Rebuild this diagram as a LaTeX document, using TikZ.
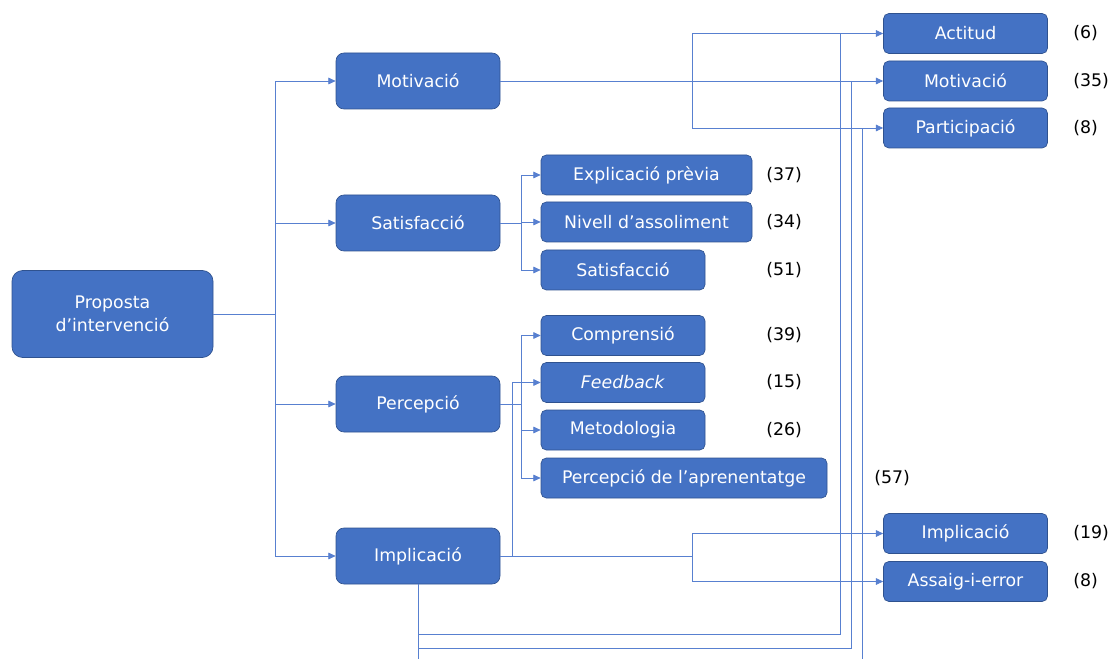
\documentclass[tikz,border=0pt]{standalone}
\usepackage{fontspec}
\setmainfont{DejaVu Sans}
\usetikzlibrary{arrows.meta}
\definecolor{boxblue}{RGB}{68,114,196}
\definecolor{boxedge}{RGB}{47,82,143}
\definecolor{linkblue}{RGB}{88,128,208}
\tikzset{>={Triangle[length=5.5pt,width=5pt]}}
\tikzset{
  catbox/.style={draw=boxedge, fill=boxblue, text=white, rounded corners=6pt,
    font=\fontsize{13}{17}\selectfont, align=center, inner sep=0pt, line width=0.5pt,
    minimum width=123pt, minimum height=42pt},
  mainbox/.style={catbox, minimum width=150.75pt, minimum height=65.25pt, rounded corners=8pt},
  subbox/.style={catbox, rounded corners=4pt, minimum height=30pt, minimum width=#1},
  subbox/.default=123pt,
  link/.style={draw=linkblue, line width=0.6pt},
  count/.style={anchor=west, font=\fontsize{13}{15}\selectfont, inner sep=0pt}
}

\begin{document}
\begin{tikzpicture}[x=0.75pt,y=-0.75pt]
  \useasboundingbox (0,0) rectangle (1114,659);

  \node[mainbox] (prop) at (112.5,314) {Proposta\\d’intervenció};
  \node[catbox] (mot) at (418,81) {Motivació};
  \node[catbox] (sat) at (418,223) {Satisfacció};
  \node[catbox] (per) at (418,404) {Percepció};
  \node[catbox] (imp) at (418,556) {Implicació};

  \node[subbox=158.25pt] (expl) at (646.5,175) {Explicació prèvia};
  \node[subbox=158.25pt] (niv) at (646.5,222) {Nivell d’assoliment};
  \node[subbox] (sat2) at (623,270) {Satisfacció};
  \node[subbox] (comp) at (623,335.5) {Comprensió};
  \node[subbox] (feed) at (623,382.5) {\textit{Feedback}};
  \node[subbox] (met) at (623,430) {Metodologia};
  \node[subbox=214.5pt] (apr) at (684,478) {Percepció de l’aprenentatge};

  \node[subbox] (act) at (965.5,33.5) {Actitud};
  \node[subbox] (mot2) at (965.5,81) {Motivació};
  \node[subbox] (part) at (965.5,128) {Participació};
  \node[subbox] (imp2) at (965.5,533.5) {Implicació};
  \node[subbox] (ass) at (965.5,581.5) {Assaig-i-error};

  \node[count] (nexpl) at (766,175) {(37)};
  \node[count] (nniv) at (766,222) {(34)};
  \node[count] (nsat2) at (766,270) {(51)};
  \node[count] (ncomp) at (766,335.5) {(39)};
  \node[count] (nfeed) at (766,382.5) {(15)};
  \node[count] (nmet) at (766,430) {(26)};
  \node[count] (napr) at (874,478) {(57)};
  \node[count] (nact) at (1073,33.5) {(6)};
  \node[count] (nmot2) at (1073,81) {(35)};
  \node[count] (npart) at (1073,128) {(8)};
  \node[count] (nimp2) at (1073,533.5) {(19)};
  \node[count] (nass) at (1073,581.5) {(8)};

  \coordinate (j0) at (275,314);
  \coordinate (j1) at (521,223);
  \coordinate (j2) at (521,404);
  \coordinate (j3) at (512,556);
  \coordinate (j4) at (692,556);
  \coordinate (j5) at (692,81);
  \coordinate (k0) at (418,659);
  \coordinate (k1) at (840,634);
  \coordinate (k2) at (851,648);
  \coordinate (k3) at (862,659);

  \draw[link] (prop.east) -- (j0);
  \foreach \n in {mot,sat,per,imp} \draw[link,->] (j0) |- (\n.west);
  \draw[link] (sat.east) -- (j1);
  \foreach \n in {expl,niv,sat2} \draw[link,->] (j1) |- (\n.west);
  \draw[link] (per.east) -- (j2);
  \foreach \n in {comp,met,apr} \draw[link,->] (j2) |- (\n.west);
  \draw[link] (imp.east) -- (j4);
  \draw[link,->] (j3) |- (feed.west);
  \foreach \n in {imp2,ass} \draw[link,->] (j4) |- (\n.west);
  \draw[link,->] (mot.east) -- (mot2.west);
  \foreach \n in {act,part} \draw[link,->] (j5) |- (\n.west);

  \draw[link] (imp.south) -- (k0);
  \draw[link] (imp.south |- k1) -- (k1) -- (k1 |- act.west);
  \draw[link] (imp.south |- k2) -- (k2) -- (k2 |- mot2.west);
  \draw[link] (k3) -- (k3 |- part.west);
\end{tikzpicture}
\end{document}
